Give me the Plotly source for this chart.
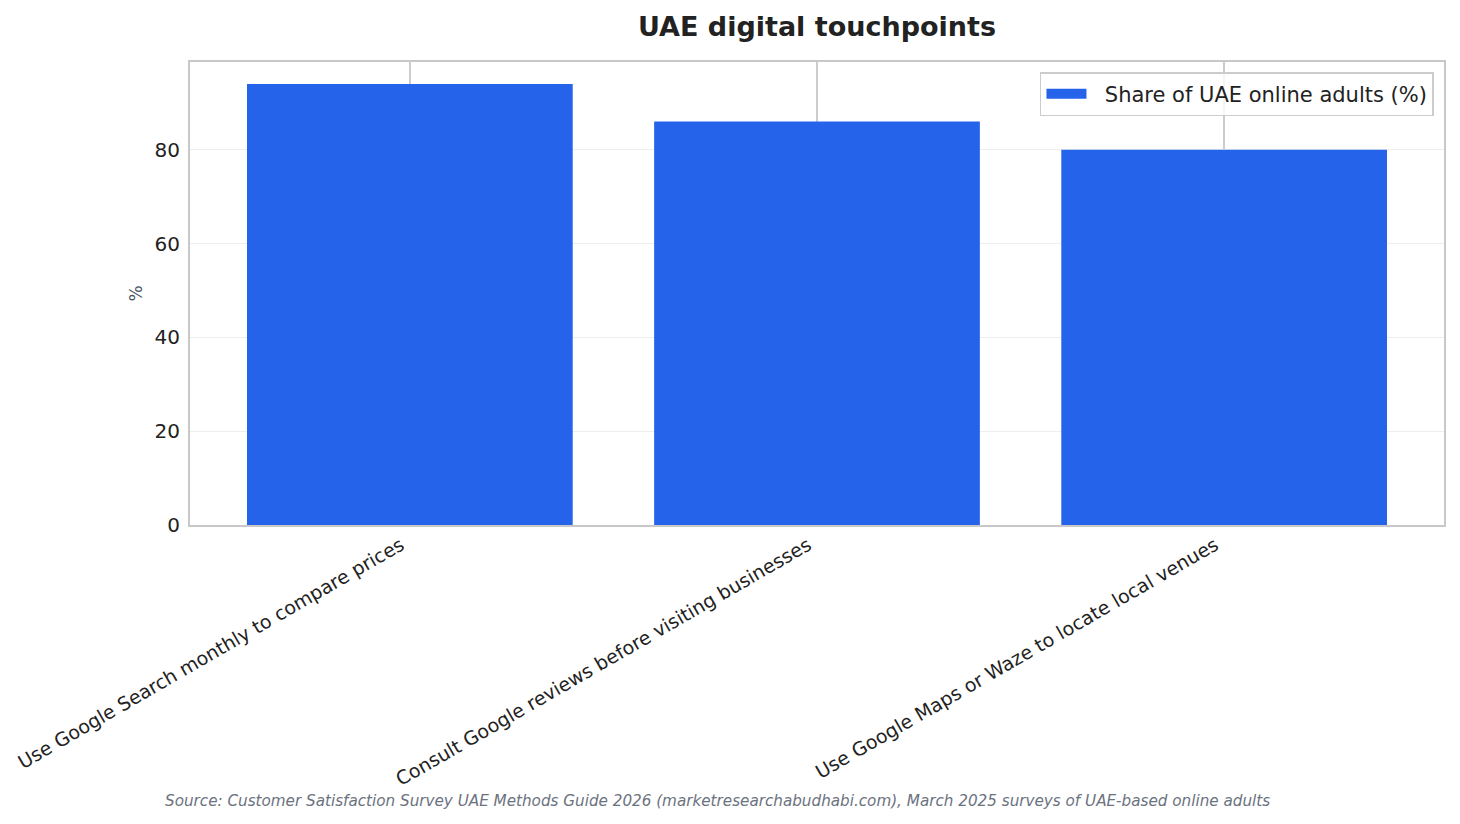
import plotly.graph_objects as go

categories = [
    "Use Google Search monthly to compare prices",
    "Consult Google reviews before visiting businesses",
    "Use Google Maps or Waze to locate local venues",
]
share = [94, 86, 80]
series_name = "Share of UAE online adults (%)"
source = ("Source: Customer Satisfaction Survey UAE Methods Guide 2026 "
          "(marketresearchabudhabi.com), March 2025 surveys of UAE-based online adults")

font = "DejaVu Sans, Verdana, sans-serif"
bar_color = "#2563EB"

fig = go.Figure()
fig.add_trace(go.Bar(
    x=list(range(len(categories))), y=share, name=series_name,
    marker=dict(color=bar_color, line=dict(width=0)),
    width=0.8, showlegend=False,
))
# legend-only entry so the key is a wide patch like the original
fig.add_trace(go.Scatter(
    x=[None], y=[None], mode="lines", name="\u00a0\u00a0" + series_name,
    line=dict(color=bar_color, width=14), hoverinfo="skip",
))

# page body adds ~7px offset, so margins are trimmed to match
fig.update_layout(
    width=1460, height=824,
    margin=dict(l=182, r=24, t=54, b=307),
    paper_bgcolor="white", plot_bgcolor="white",
    font=dict(family=font, color="#222222"),
    title=dict(text="<b>UAE digital touchpoints</b>", xref="paper", x=0.5, xanchor="center",
               y=0.977, yanchor="middle", font=dict(family=font, size=27, color="#222222")),
    legend=dict(x=0.992, y=0.978, xanchor="right", yanchor="top",
                bordercolor="#cccccc", borderwidth=1.5, bgcolor="rgba(255,255,255,0.8)",
                font=dict(family=font, size=21, color="#222222"), itemwidth=40),
    showlegend=True,
)

fig.update_xaxes(
    range=[-0.54, 2.54], tickmode="array",
    tickvals=list(range(len(categories))), ticktext=categories,
    tickangle=-30, tickfont=dict(family=font, size=19, color="#222222"),
    ticklabelshift=-9, ticks="", automargin=False,
    showgrid=True, gridcolor="#cccccc", gridwidth=1.5,
    showline=True, linecolor="#c8c8c8", linewidth=2, mirror=True,
    zeroline=False,
)
fig.update_yaxes(
    range=[0, 98.7], tickvals=[0, 20, 40, 60, 80],
    tickfont=dict(family=font, size=20, color="#222222"),
    title=dict(text="%", font=dict(family=font, size=17, color="#4b5563"), standoff=8),
    showgrid=True, gridcolor="#eeeeee", gridwidth=1, automargin=False,
    showline=True, linecolor="#c8c8c8", linewidth=2, mirror=True,
    ticks="outside", ticklen=4, tickcolor="rgba(0,0,0,0)", zeroline=False,
)

fig.add_annotation(
    text=f"<i>{source}</i>", xref="paper", yref="paper",
    x=0.4204, y=-0.596, xanchor="center", yanchor="middle", showarrow=False,
    font=dict(family=font, size=15.2, color="#6b7280"),
)

fig.write_html("out.html")
